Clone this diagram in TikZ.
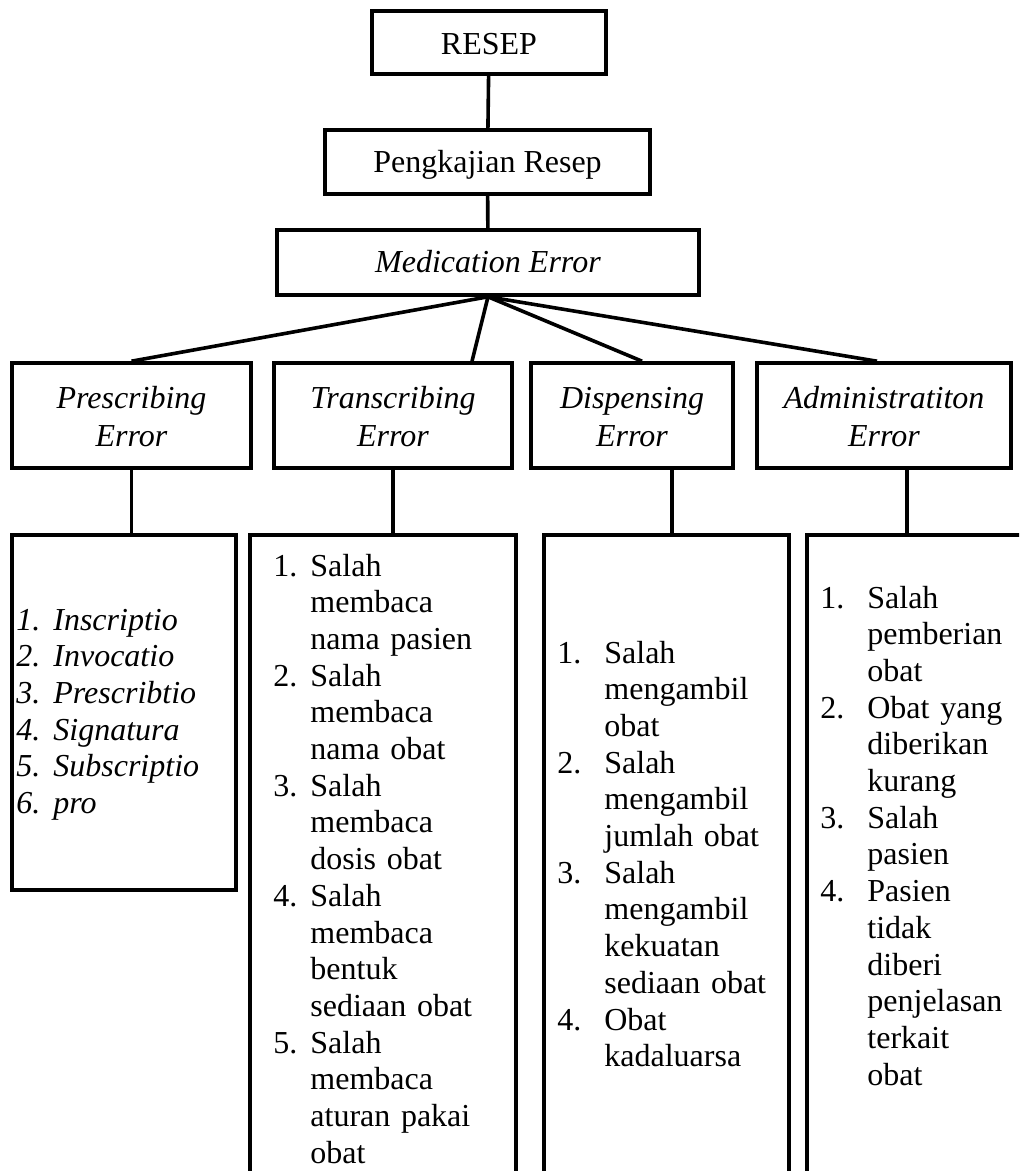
\documentclass[tikz,border=0pt]{standalone}
\usepackage{fontspec}
\setmainfont{Liberation Serif}
\usepackage{tikz}
\newcommand{\lno}[2][18.5pt]{\makebox[#1][l]{#2}}
\tikzset{box/.style = {draw, line width=1.8pt, align=center, text centered, inner sep=0pt}}
\tikzset{top/.style = {box, text height=14pt, text depth=2.5pt}}
\tikzset{err/.style = {box, font=\fontsize{16}{19}\selectfont\itshape, minimum height=52.5pt,
  text width=95pt, text height=12pt, text depth=19.5pt}}
\tikzset{list/.style = {align=left, inner sep=0pt, anchor=base west, text width=125pt}}
\tikzset{con/.style = {line width=1.8pt}}

\begin{document}
\begin{tikzpicture}[x=0.5pt, y=-0.5pt,
  font=\fontsize{16}{18.35}\selectfont
]
\useasboundingbox (0,0) rectangle (1019,1171);
\clip (0,0) rectangle (1019,1171);

\node[top, minimum width=117pt, minimum height=31.5pt, text depth=1.5pt] (b0) at (489,42.5) {RESEP};
\node[top, minimum width=162.5pt, minimum height=32pt, text depth=3pt] (b1) at (487.5,162) {Pengkajian Resep};
\node[top, minimum width=211pt, minimum height=32.5pt, text depth=3.5pt] (b2) at (488,262.5) {\textit{Medication Error}};

\node[err, minimum width=119.5pt] (b3) at (131.5,415.5) {Prescribing\\Error};
\node[err, minimum width=119pt] (b4) at (393,415.5) {Transcribing\\Error};
\node[err, minimum width=101pt] (b5) at (632,415.5) {Dispensing\\Error};
\node[err, minimum width=127pt, text width=120pt] (b6) at (884,415.5) {Administratiton\\Error};

% list boxes, the last three run past the bottom edge
\node[box, minimum width=112pt, minimum height=177.5pt] (b7) at (124,712.5) {};
\node[box, minimum width=133pt, minimum height=332.5pt] (b8) at (383,867.5) {};
\node[box, minimum width=122.5pt, minimum height=332.5pt] (b9) at (666.5,867.5) {};
\node[box, minimum width=116.5pt, minimum height=332.5pt] (b10) at (923.5,867.5) {};

\node[list, font=\fontsize{16}{18.35}\selectfont\itshape] (t7) at (16,630) {
  \lno{1.}Inscriptio\\
  \lno{2.}Invocatio\\
  \lno{3.}Prescribtio\\
  \lno{4.}Signatura\\
  \lno{5.}Subscriptio\\
  \lno{6.}pro
};
\node[list] (t8) at (273,576) {
  \lno{1.}Salah\\ \lno{}membaca\\ \lno{}nama pasien\\
  \lno{2.}Salah\\ \lno{}membaca\\ \lno{}nama obat\\
  \lno{3.}Salah\\ \lno{}membaca\\ \lno{}dosis obat\\
  \lno{4.}Salah\\ \lno{}membaca\\ \lno{}bentuk\\ \lno{}sediaan obat\\
  \lno{5.}Salah\\ \lno{}membaca\\ \lno{}aturan pakai\\ \lno{}obat
};
\node[list] (t9) at (557,663) {
  \lno[23.5pt]{1.}Salah\\ \lno[23.5pt]{}mengambil\\ \lno[23.5pt]{}obat\\
  \lno[23.5pt]{2.}Salah\\ \lno[23.5pt]{}mengambil\\ \lno[23.5pt]{}jumlah obat\\
  \lno[23.5pt]{3.}Salah\\ \lno[23.5pt]{}mengambil\\ \lno[23.5pt]{}kekuatan\\ \lno[23.5pt]{}sediaan obat\\
  \lno[23.5pt]{4.}Obat\\ \lno[23.5pt]{}kadaluarsa
};
\node[list] (t10) at (820,608) {
  \lno[23.5pt]{1.}Salah\\ \lno[23.5pt]{}pemberian\\ \lno[23.5pt]{}obat\\
  \lno[23.5pt]{2.}Obat yang\\ \lno[23.5pt]{}diberikan\\ \lno[23.5pt]{}kurang\\
  \lno[23.5pt]{3.}Salah\\ \lno[23.5pt]{}pasien\\
  \lno[23.5pt]{4.}Pasien\\ \lno[23.5pt]{}tidak\\ \lno[23.5pt]{}diberi\\ \lno[23.5pt]{}penjelasan\\ \lno[23.5pt]{}terkait\\ \lno[23.5pt]{}obat
};

\coordinate (d5) at ([xshift=20pt]b5.south);
\coordinate (d6) at ([xshift=11.5pt]b6.south);

\draw[con] (b0) -- (b1);
\draw[con] (b1) -- (b2);
\draw[con] (b2.south) -- (b3.north);
\draw[con] (b2.south) -- ([xshift=39.5pt]b4.north);
\draw[con] (b2.south) -- ([xshift=5pt]b5.north);
\draw[con] (b2.south) -- ([xshift=-3.5pt]b6.north);
\draw[con] (b3.south) -- (b3.south |- b7.north);
\draw[con] (b4.south) -- (b4.south |- b8.north);
\draw[con] (d5) -- (d5 |- b9.north);
\draw[con] (d6) -- (d6 |- b10.north);

\end{tikzpicture}
\end{document}
